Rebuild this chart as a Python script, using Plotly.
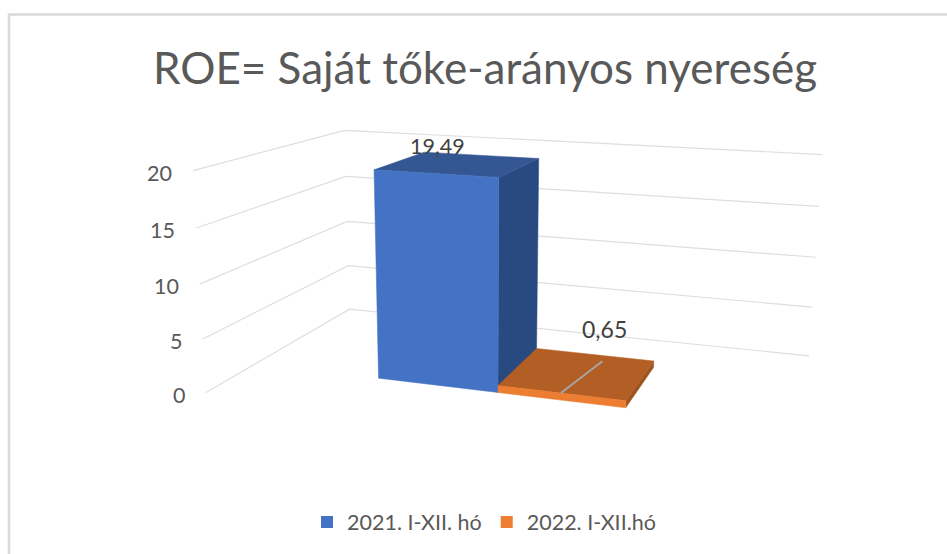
import numpy as np
import plotly.graph_objects as go

title = "ROE= Saját tőke-arányos nyereség"
series_names = ["2021. I-XII. hó", "2022. I-XII.hó"]
series_values = [19.49, 0.65]
value_labels = ["19,49", "0,65"]
value_ticks = [0, 5, 10, 15, 20]
axis_max = 20

# Camera calibration for the 3-D box: (across, depth, height share) -> page pixel
CAL_WORLD = [(0, 0, 0), (0, 1, 0), (1, 1, 0), (1, 0, 0), (0, 0, 1), (0, 1, 1), (1, 1, 1)]
CAL_PAGE = [(207, 391), (348, 310), (809, 357), (777, 466), (191, 173), (347, 129), (822, 154)]
A, b = [], []
for (X, D, Z), (u, v) in zip(CAL_WORLD, CAL_PAGE):
    A.append([X, D, Z, 1, 0, 0, 0, 0, -u * X, -u * D, -u * Z]); b.append(u)
    A.append([0, 0, 0, 0, X, D, Z, 1, -v * X, -v * D, -v * Z]); b.append(v)
p = np.linalg.lstsq(np.array(A, float), np.array(b, float), rcond=None)[0]
P = np.append(p, 1).reshape(3, 4)


def proj(x, d, val):
    r = P @ np.array([x, d, val / axis_max, 1.0])
    return r[0] / r[2], r[1] / r[2]


BAR_W = 0.234
CLUSTER_X = 0.257
D0, D1 = 0.3, 0.7
FRONT = ["#4472C4", "#ED7D31"]
TOP = ["#345794", "#B25E24"]
SIDE = ["#294A80", "#9E5420"]
GRID = "#DEDEDE"
TXT = "#595959"

fig = go.Figure()


def poly(points, color):
    xy = [proj(*q) for q in points]
    xs = [c[0] for c in xy] + [xy[0][0]]
    ys = [c[1] for c in xy] + [xy[0][1]]
    fig.add_trace(go.Scatter(x=xs, y=ys, mode="lines", fill="toself", fillcolor=color,
                             line=dict(color=color, width=0.5), showlegend=False, hoverinfo="skip"))


def seg(points, color, width):
    xy = [proj(*q) for q in points]
    fig.add_trace(go.Scatter(x=[c[0] for c in xy], y=[c[1] for c in xy], mode="lines",
                             line=dict(color=color, width=width), showlegend=False, hoverinfo="skip"))


for t in value_ticks:
    seg([(0, 0, t), (0, 1, t), (1, 1, t)], GRID, 1.2)

annotations = []
for t in value_ticks:
    x, y = proj(0, 0, t)
    annotations.append(dict(x=x, y=y, xref="x", yref="y", text=str(t), showarrow=False, xanchor="right",
                            xshift=-19, yshift=-2, font=dict(family="Lato", size=21.5, color=TXT)))

label_shift = [(-22, 18), (26, 44)]
label_size = [21.5, 23]
for i, v in enumerate(series_values):
    x0 = CLUSTER_X + i * BAR_W
    x1 = x0 + BAR_W
    poly([(x1, D0, 0), (x1, D1, 0), (x1, D1, v), (x1, D0, v)], SIDE[i])
    poly([(x0, D0, v), (x1, D0, v), (x1, D1, v), (x0, D1, v)], TOP[i])
    poly([(x0, D0, 0), (x1, D0, 0), (x1, D0, v), (x0, D0, v)], FRONT[i])
    cx, cy = proj((x0 + x1) / 2, (D0 + D1) / 2, v)
    annotations.append(dict(x=cx, y=cy, xref="x", yref="y", text=value_labels[i], showarrow=False,
                            xshift=label_shift[i][0], yshift=label_shift[i][1],
                            font=dict(family="Lato", size=label_size[i], color="#404040")))

# the stray axis line showing through the low bar
mx = CLUSTER_X + 1.5 * BAR_W
seg([(mx, D0, series_values[1]), (mx + 0.025, D0 + 0.85 * (D1 - D0), series_values[1])], "#A6A6A6", 2)

for name, color in zip(series_names, FRONT):
    fig.add_trace(go.Scatter(x=[None], y=[None], mode="markers", name=name,
                             marker=dict(symbol="square", size=12, color=color)))

fig.update_layout(
    width=947, height=554, margin=dict(l=0, r=0, t=0, b=0),
    paper_bgcolor="white", plot_bgcolor="white",
    title=dict(text=title, x=485 / 947, xanchor="center", y=1 - 69 / 554, yanchor="middle",
               font=dict(family="Lato", size=44, color=TXT)),
    xaxis=dict(range=[0, 947], visible=False, fixedrange=True),
    yaxis=dict(range=[554, 0], visible=False, fixedrange=True),
    legend=dict(orientation="h", x=484 / 947, xanchor="center", y=1 - 522 / 554, yanchor="middle",
                font=dict(family="Lato", size=21.5, color=TXT), bgcolor="rgba(0,0,0,0)"),
    annotations=annotations,
    shapes=[dict(type="path", path="M 9 554 L 9 14.5 L 947 14.5", xref="x", yref="y",
                 line=dict(color="#D9D9D9", width=2.5))],
)
fig.write_html("out.html", config={"displayModeBar": False},
               post_script="document.body.style.margin='0';document.body.style.overflow='hidden';")
